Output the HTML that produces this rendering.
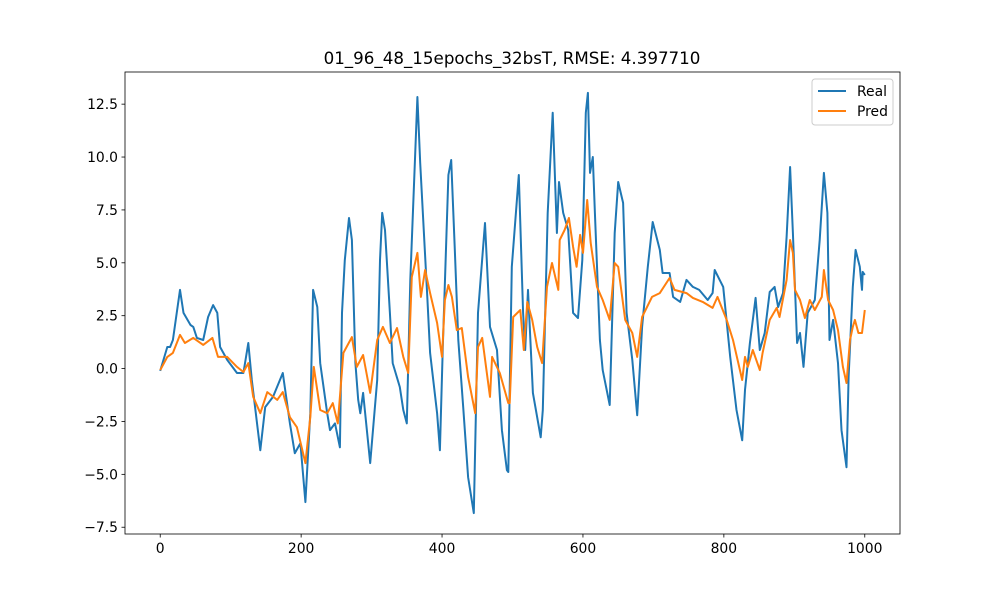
<!DOCTYPE html>
<html><head><meta charset="utf-8"><style>
body{margin:0;background:#fff;}
svg{display:block;font-family:"DejaVu Sans","Liberation Sans",sans-serif;}
</style></head><body>
<svg id="chart" width="1000" height="600" viewBox="0 0 1000 600">
<rect x="0" y="0" width="1000" height="600" fill="#fff"/>
<text x="512" y="64" font-size="16.7" text-anchor="middle" fill="#000">01_96_48_15epochs_32bsT, RMSE: 4.397710</text>
<g id="series"></g>
<g id="axes"></g>
<g>
<rect x="812" y="79" width="81" height="46" rx="3" fill="#fff" fill-opacity="0.8" stroke="#ccc"/>
<line x1="818" y1="91" x2="846" y2="91" stroke="#1f77b4" stroke-width="2"/>
<text x="857" y="96" font-size="13.9" fill="#000">Real</text>
<line x1="818" y1="111" x2="846" y2="111" stroke="#ff7f0e" stroke-width="2"/>
<text x="857" y="116" font-size="13.9" fill="#000">Pred</text>
</g>
</svg>
<script>
const realX=[0,10,14,18,28,33,43,47,52,61,68,75,81,85,95,109,118,125,130,138,142,149,160,174,184,191,199,206,213,217,223,227,237,241,248,255,258,262,268,272,277,281,284,288,298,308,312,315,319,326,330,340,345,350,355,365,369,379,383,393,397,401,409,413,418,423,430,437,445,451,461,468,478,485,492,494,499,509,515,518,522,529,540,543,550,557,563,566,572,579,586,593,599,604,607,610,614,617,624,628,638,645,650,657,662,670,677,684,692,699,709,713,723,728,738,747,756,765,777,784,787,799,809,818,826,830,837,845,851,858,865,872,877,884,889,894,898,904,908,913,919,929,936,942,947,950,955,962,967,974,977,983,987,993,996,997,1000];
const realY=[-0.11,1.02,1.02,1.35,3.72,2.63,2.06,1.97,1.45,1.35,2.44,3.0,2.63,1.02,0.41,-0.21,-0.21,1.21,-0.54,-2.77,-3.86,-1.82,-1.34,-0.21,-2.59,-4.0,-3.53,-6.31,-2.11,3.72,2.91,0.26,-2.11,-2.91,-2.59,-3.72,2.63,5.13,7.12,6.08,0.26,-1.48,-2.11,-1.15,-4.47,-0.54,5.13,7.36,6.55,2.63,0.26,-0.87,-1.96,-2.59,4.19,12.84,9.72,3.39,0.74,-2.11,-3.86,1.02,9.15,9.86,5.75,1.35,-1.82,-5.13,-6.83,2.63,6.88,1.97,0.88,-2.91,-4.80,-4.89,4.81,9.15,2.63,0.88,3.72,-1.15,-3.25,-1.96,7.36,12.09,6.41,8.82,7.36,6.55,2.63,2.39,5.13,12.09,13.03,9.25,10.0,7.36,1.35,-0.07,-1.72,6.41,8.82,7.83,2.63,0.41,-2.21,1.97,4.81,6.93,5.61,4.52,4.52,3.39,3.15,4.19,3.86,3.72,3.24,3.57,4.66,3.86,0.55,-1.96,-3.39,-1.01,1.21,3.34,0.88,1.68,3.62,3.86,2.91,3.57,6.22,9.53,6.41,1.21,1.68,0.08,2.63,3.24,6.08,9.25,7.36,1.35,2.30,0.26,-2.91,-4.66,-0.40,3.86,5.61,4.81,3.72,4.57,4.43];
const predX=[0,10,18,28,35,47,61,74,82,95,109,118,125,132,142,152,166,174,184,194,206,213,218,227,237,245,252,260,272,279,288,298,308,316,326,336,345,352,357,365,370,376,383,393,400,404,409,414,421,428,437,447,451,457,468,471,482,494,496,501,511,516,521,528,535,542,549,556,565,567,574,580,586,591,596,600,606,611,620,628,638,645,650,660,670,677,684,698,709,723,730,747,756,770,784,791,804,813,826,830,834,841,851,855,865,875,879,889,894,898,901,908,915,922,929,939,942,948,955,962,969,974,979,983,986,991,996,1000];
const predY=[-0.07,0.55,0.74,1.59,1.21,1.45,1.12,1.45,0.55,0.55,0.08,-0.16,0.26,-1.34,-2.11,-1.11,-1.48,-1.11,-2.30,-2.77,-4.47,-2.3,0.08,-1.96,-2.11,-1.63,-2.59,0.74,1.49,0.08,0.64,-1.15,1.35,1.97,1.21,1.92,0.55,-0.21,4.33,5.47,3.39,4.66,3.57,2.16,0.55,3.24,3.95,3.39,1.82,1.92,-0.40,-2.11,1.02,1.45,-1.34,0.55,-0.21,-1.63,-1.63,2.44,2.77,0.88,3.15,2.30,1.02,0.26,3.86,4.99,3.72,6.08,6.55,7.12,5.75,4.81,6.32,5.47,7.97,5.94,3.86,3.24,2.30,4.99,4.81,2.30,1.68,0.55,2.44,3.39,3.57,4.28,3.72,3.57,3.34,3.15,2.87,3.39,2.30,1.35,-0.54,0.55,0.08,0.88,-0.07,0.74,2.30,2.87,2.44,4.19,6.08,5.47,3.72,3.24,2.39,3.24,2.77,3.39,4.66,3.24,2.77,1.82,0.08,-0.68,1.35,1.97,2.30,1.68,1.68,2.77];
const xTicks=[0,200,400,600,800,1000];
const yTicks=[-7.5,-5.0,-2.5,0.0,2.5,5.0,7.5,10.0,12.5];

const L=125,R=900,T=72,B=534,XMIN=-50,XMAX=1050,YMIN=-7.82,YMAX=14.02;
function sx(v){return L+(v-XMIN)/(XMAX-XMIN)*(R-L);}
function sy(v){return B-(v-YMIN)/(YMAX-YMIN)*(B-T);}
const NS="http://www.w3.org/2000/svg";
const series=document.getElementById('series');
function drawLine(xs,ys,color,name){
  const p=document.createElementNS(NS,'path');
  let d='';
  for(let i=0;i<xs.length;i++){d+=(i?'L':'M')+sx(xs[i]).toFixed(1)+','+sy(ys[i]).toFixed(1);}
  p.setAttribute('d',d);p.setAttribute('fill','none');p.setAttribute('stroke',color);
  p.setAttribute('stroke-width','2');p.setAttribute('stroke-linejoin','round');
  
  
  series.appendChild(p);
}
drawLine(realX,realY,'#1f77b4','real-line');
drawLine(predX,predY,'#ff7f0e','pred-line');
const axes=document.getElementById('axes');
const frame=document.createElementNS(NS,'rect');
frame.setAttribute('x',L);frame.setAttribute('y',T);frame.setAttribute('width',R-L);frame.setAttribute('height',B-T);
frame.setAttribute('fill','none');frame.setAttribute('stroke','#000');frame.setAttribute('stroke-width','0.8');


axes.appendChild(frame);
xTicks.forEach(v=>{
  const x=sx(v);
  const t=document.createElementNS(NS,'line');
  t.setAttribute('x1',x);t.setAttribute('x2',x);t.setAttribute('y1',B);t.setAttribute('y2',B+3.5);
  t.setAttribute('stroke','#000');t.setAttribute('stroke-width','0.8');
  
  
  axes.appendChild(t);
  const s=document.createElementNS(NS,'text');
  s.setAttribute('x',x);s.setAttribute('y',B+19);s.setAttribute('font-size','13.9');s.setAttribute('text-anchor','middle');
  s.textContent=String(v);
  
  
  axes.appendChild(s);
});
yTicks.forEach(v=>{
  const y=sy(v);
  const t=document.createElementNS(NS,'line');
  t.setAttribute('x1',L-3.5);t.setAttribute('x2',L);t.setAttribute('y1',y);t.setAttribute('y2',y);
  t.setAttribute('stroke','#000');t.setAttribute('stroke-width','0.8');
  
  
  axes.appendChild(t);
  const s=document.createElementNS(NS,'text');
  s.setAttribute('x',L-7);s.setAttribute('y',y+5);s.setAttribute('font-size','13.9');s.setAttribute('text-anchor','end');
  s.textContent=(v<0?'\u2212':'')+Math.abs(v).toFixed(1);
  
  
  axes.appendChild(s);
});
</script>
</body></html>
